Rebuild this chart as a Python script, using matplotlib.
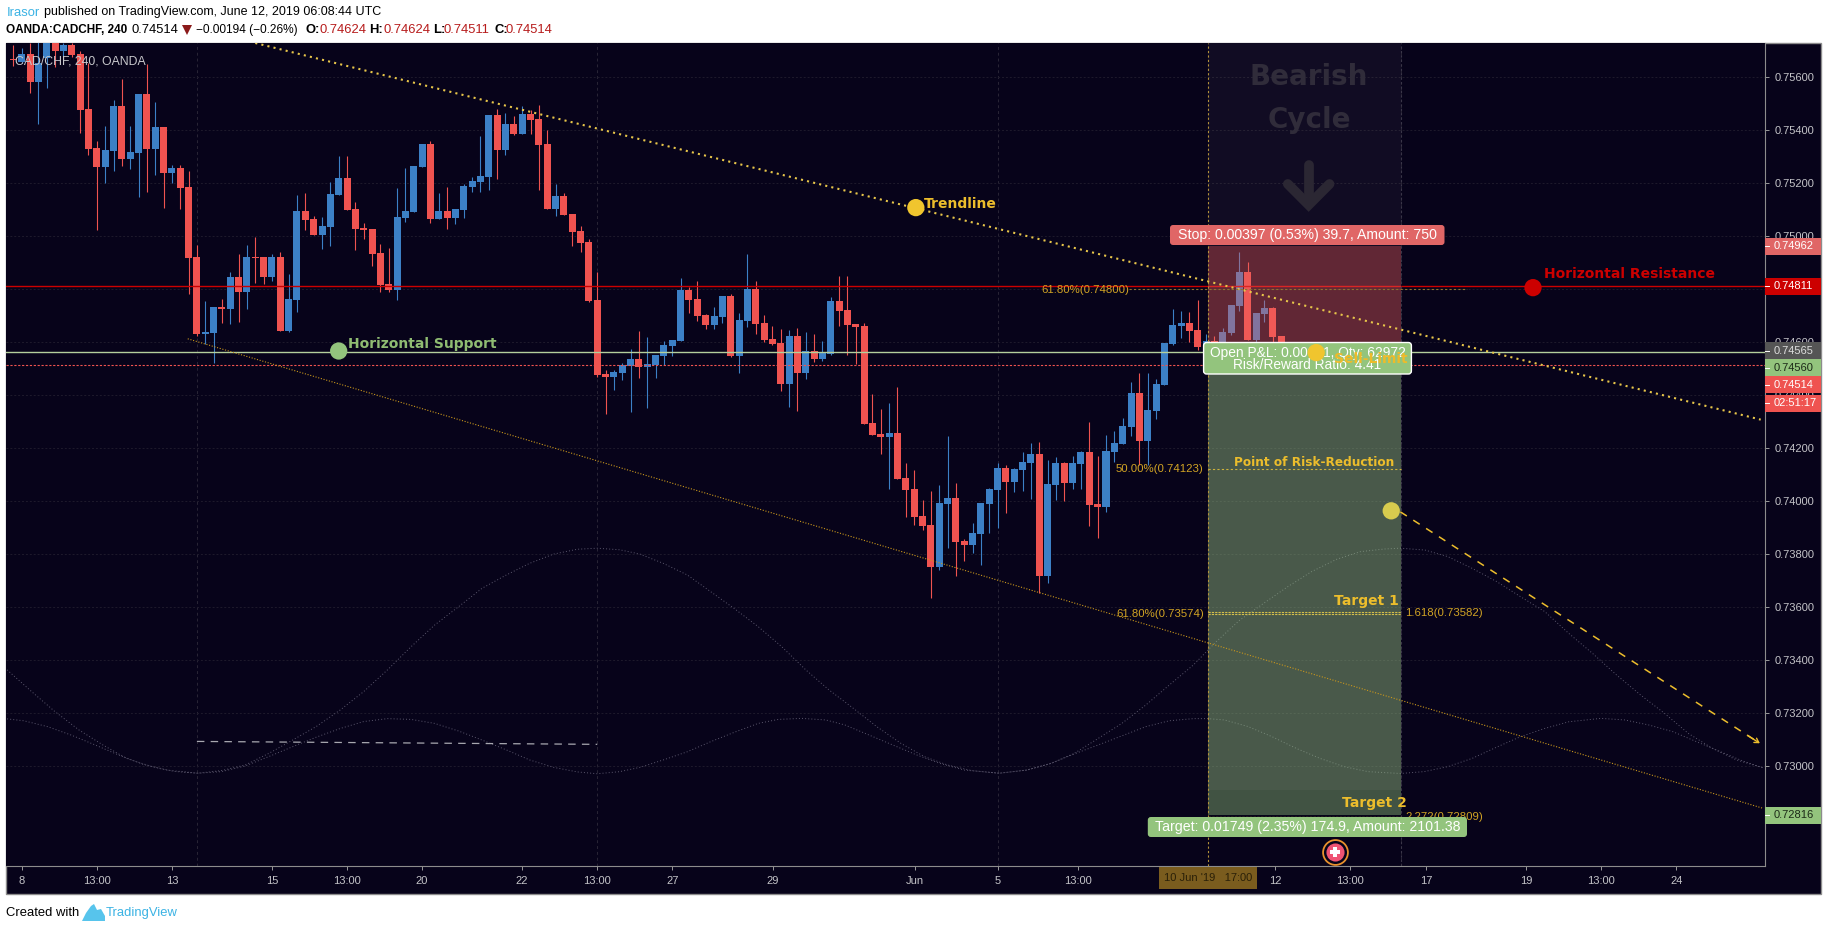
import numpy as np
import matplotlib
matplotlib.use("Agg")
import matplotlib.pyplot as plt
from matplotlib.patches import FancyBboxPatch, Rectangle, Polygon
from matplotlib.transforms import IdentityTransform, blended_transform_factory

W, H = 1828, 930
AX_W = 1759.3
BG = '#07031a'
UP = '#3c80c6'
DOWN = '#ef5350'
YELLOW = '#ecbd2c'
FIB = '#d2a424'
GREEN = '#93c47d'
RED = '#cc0000'
SANS = ['Liberation Sans', 'DejaVu Sans']

# candles, price in 1e-5 units
bar_open = [75668, 75657, 75688, 75580, 75672, 75741, 75699, 75722, 75688, 75481,
            75333, 75262, 75322, 75492, 75292, 75315, 75537, 75330, 75413, 75239,
            75258, 75186, 74922, 74631, 74635, 74733, 74726, 74847, 74790, 74922,
            74922, 74847, 74922, 74643, 74760, 75096, 75066, 75005, 75035, 75156,
            75220, 75103, 75032, 75028, 74937, 74820, 74798, 75069, 75092, 75262,
            75349, 75066, 75096, 75069, 75099, 75186, 75205, 75224, 75458, 75326,
            75424, 75386, 75462, 75443, 75349, 75103, 75152, 75084, 75020, 74979,
            74760, 74481, 74469, 74484, 74511, 74537, 74507, 74515, 74548, 74586,
            74605, 74798, 74764, 74703, 74665, 74696, 74775, 74548, 74681, 74801,
            74673, 74613, 74598, 74443, 74624, 74484, 74567, 74537, 74556, 74756,
            74722, 74669, 74662, 74296, 74254, 74243, 74258, 74088, 74047, 73945,
            73911, 73752, 73990, 74013, 73850, 73835, 73877, 73990, 74043, 74126,
            74073, 74118, 74145, 74179, 73718, 74062, 74145, 74069, 74141, 74186,
            73990, 73979, 74186, 74216, 74281, 74409, 74228, 74341, 74439, 74594,
            74662, 74673, 74647, 74584, 74606, 74597, 74636, 74738, 74866, 74610, 74708, 74730, 74624]
bar_close = [75663, 75688, 75580, 75653, 75747, 75699, 75722, 75684, 75477, 75330,
             75262, 75326, 75492, 75292, 75318, 75537, 75330, 75413, 75239, 75258,
             75182, 74918, 74631, 74639, 74733, 74726, 74847, 74790, 74922, 74918,
             74847, 74922, 74643, 74764, 75096, 75062, 75005, 75039, 75160, 75220,
             75099, 75028, 75024, 74933, 74816, 74798, 75073, 75096, 75266, 75349,
             75066, 75096, 75069, 75103, 75190, 75209, 75228, 75458, 75326, 75424,
             75386, 75462, 75439, 75345, 75103, 75152, 75081, 75016, 74975, 74756,
             74477, 74469, 74488, 74515, 74537, 74507, 74518, 74552, 74590, 74609,
             74798, 74760, 74699, 74665, 74699, 74775, 74548, 74684, 74801, 74669,
             74609, 74594, 74443, 74624, 74484, 74567, 74537, 74564, 74756, 74718,
             74665, 74658, 74292, 74250, 74243, 74258, 74084, 74043, 73941, 73907,
             73752, 73994, 74013, 73847, 73835, 73881, 73994, 74047, 74126, 74073,
             74122, 74148, 74179, 73718, 74065, 74145, 74069, 74145, 74186, 73986,
             73979, 74190, 74220, 74284, 74409, 74228, 74345, 74443, 74598, 74665,
             74673, 74643, 74582, 74606, 74595, 74640, 74742, 74866, 74610, 74712, 74730, 74621, 74514]
bar_high = [75722, 75710, 75730, 75740, 75760, 75760, 75730, 75730, 75699, 75653,
            75360, 75416, 75515, 75594, 75416, 75537, 75650, 75507, 75413, 75269,
            75269, 75247, 74967, 74756, 74733, 74764, 74865, 74933, 74967, 74998,
            74922, 74933, 74941, 74858, 75156, 75164, 75077, 75073, 75205, 75303,
            75303, 75130, 75050, 75028, 74971, 74956, 75182, 75258, 75266, 75349,
            75360, 75164, 75186, 75103, 75198, 75224, 75379, 75458, 75481, 75466,
            75454, 75492, 75477, 75496, 75401, 75198, 75164, 75084, 75039, 74990,
            74865, 74496, 74496, 74522, 74575, 74643, 74620, 74552, 74605, 74609,
            74843, 74809, 74832, 74707, 74733, 74775, 74782, 74711, 74933, 74832,
            74703, 74662, 74650, 74647, 74654, 74639, 74632, 74605, 74771, 74850,
            74850, 74669, 74673, 74405, 74348, 74371, 74431, 74145, 74118, 74005,
            74039, 74062, 74247, 74069, 73858, 73918, 73994, 74050, 74145, 74137,
            74126, 74186, 74220, 74224, 74156, 74167, 74148, 74171, 74190, 74299,
            74171, 74250, 74265, 74314, 74450, 74484, 74484, 74462, 74598, 74726,
            74718, 74715, 74760, 74632, 74625, 74655, 74742, 74942, 74904, 74712, 74761, 74734, 74624]
bar_low = [75644, 75653, 75542, 75424, 75560, 75637, 75678, 75678, 75391, 75305,
           75024, 75201, 75247, 75266, 75254, 75149, 75167, 75232, 75107, 75201,
           75103, 74782, 74624, 74594, 74522, 74673, 74669, 74677, 74726, 74823,
           74820, 74831, 74643, 74639, 74715, 75024, 75005, 74952, 74964, 75156,
           75099, 74948, 74990, 74888, 74790, 74790, 74760, 75054, 75092, 75262,
           75050, 75066, 75028, 75047, 75069, 75167, 75167, 75175, 75216, 75307,
           75383, 75386, 75386, 75175, 75103, 75077, 75081, 74964, 74941, 74752,
           74470, 74330, 74420, 74458, 74337, 74465, 74352, 74465, 74515, 74548,
           74605, 74711, 74681, 74650, 74650, 74673, 74545, 74484, 74658, 74632,
           74601, 74590, 74416, 74356, 74341, 74462, 74526, 74530, 74552, 74662,
           74552, 74518, 74292, 74250, 74179, 74047, 74084, 73941, 73911, 73892,
           73635, 73741, 73824, 73718, 73775, 73805, 73760, 73881, 73899, 73956,
           74035, 74039, 74009, 73654, 73692, 74005, 74001, 74047, 74047, 73907,
           73862, 73960, 74148, 74216, 74247, 74137, 74137, 74311, 74439, 74590,
           74616, 74601, 74571, 74578, 74578, 74584, 74629, 74719, 74610, 74597, 74678, 74597, 74511]

# the two cycle curves
wave_a_x = [-1.76, 1.18, 4.0, 6.87, 9.71, 12.56, 15.4, 18.25, 21.1, 23.94, 26.78, 29.63, 32.47, 35.3, 38.2, 41.0,
            43.85, 46.7, 49.5, 52.4, 55.2, 58.1, 60.9, 63.8, 66.6, 69.0, 71.7, 74.1, 76.9, 79.8, 82.6, 85.4, 88.3,
            91.1, 94.0, 96.8, 99.7, 102.5, 105.4, 108.2, 111.0, 113.9, 117.2, 120.5, 123.4, 126.2, 129.1, 131.9,
            134.8, 137.6, 140.5, 143.2, 146.05, 148.9, 151.8, 154.67, 157.64, 160.5, 163.4, 165.27, 168.24, 171.0,
            173.9, 176.85, 179.7, 182.6, 185.47, 188.34, 191.2, 194.1, 196.96, 199.83, 202.7, 205.6, 208.75]
wave_a_y = [73364, 73282, 73206, 73137, 73081, 73030, 73001, 72981, 72974, 72984, 73005, 73049, 73099, 73150, 73213,
            73282, 73364, 73452, 73533, 73603, 73672, 73722, 73766, 73801, 73819, 73823, 73817, 73801, 73766, 73722,
            73659, 73596, 73527, 73452, 73364, 73288, 73219, 73150, 73087, 73037, 73005, 72984, 72974, 72986, 73011,
            73049, 73106, 73162, 73232, 73307, 73383, 73470, 73552, 73615, 73678, 73735, 73781, 73810, 73820, 73823,
            73816, 73791, 73747, 73697, 73640, 73584, 73502, 73426, 73345, 73269, 73200, 73124, 73068, 73024, 72995]
wave_b_x = [-1.76, 0.23, 3.07, 5.92, 8.77, 11.6, 14.5, 17.3, 21.1, 23.94, 26.78, 29.63, 32.47, 35.3, 38.2, 41.0, 43.85,
            46.7, 49.5, 52.4, 55.2, 58.1, 60.9, 63.8, 66.6, 69.0, 71.7, 74.1, 76.9, 79.8, 82.6, 85.4, 88.3, 90.7, 93.5,
            96.4, 98.7, 101.6, 104.4, 107.3, 110.1, 113.0, 117.2, 120.5, 123.4, 126.2, 129.1, 131.9, 134.8, 137.6,
            140.5, 142.2, 144.2, 147.04, 149.9, 152.8, 155.66, 158.53, 161.4, 165.27, 168.14, 171.0, 173.9, 176.95,
            179.7, 182.6, 185.47, 189.33, 192.2, 195.08, 197.95, 200.8, 203.7, 206.6, 208.75]
wave_b_y = [73179, 73172, 73150, 73118, 73081, 73043, 73008, 72986, 72974, 72980, 73001, 73037, 73074, 73110, 73143,
            73169, 73180, 73177, 73162, 73133, 73099, 73062, 73024, 72996, 72979, 72972, 72980, 72996, 73024, 73055,
            73093, 73128, 73162, 73177, 73181, 73175, 73156, 73118, 73081, 73043, 73011, 72986, 72974, 72986, 73011,
            73047, 73081, 73115, 73150, 73172, 73180, 73180, 73175, 73150, 73112, 73068, 73030, 72999, 72980, 72973,
            72980, 72999, 73030, 73074, 73112, 73143, 73168, 73181, 73175, 73156, 73131, 73093, 73055, 73017, 72995]

# drawn levels and lines
resistance = 0.74811
support = 0.74565
last_price = 0.74514
upper_trend_x = [28, 208.5]
upper_trend_y = [0.75729, 0.74308]
lower_trend_x = [19.9, 208.75]
lower_trend_y = [0.74613, 0.72842]
white_dash_x = [21, 69]
white_dash_y = [0.73094, 0.73083]
risk_arrow_x = [165.3, 208.4]
risk_arrow_y = [0.73960, 0.73087]

# short position tool
box_left, box_right = 142.25, 165.4
stop_level = 0.74962
entry_level = 0.74560
target_level = 0.72816
cycle_bottom = 0.7291
target_1 = [0.73582, 0.73574]
risk_reduction = 0.74123
fib_748 = 0.74800
fib_748_x = [132.7, 173.3]

# circles on the chart
dot_x = [107.2, 38.0, 181.2, 155.2, 164.2]
dot_y = [0.75108, 0.74567, 0.74806, 0.74561, 0.73964]
dot_c = ['#f0c52e', '#93c47d', '#cc0000', '#f0c52e', '#d8cb4e']

# axes
price_ticks = np.arange(0.730, 0.7561, 0.002)
time_ticks = [0, 9, 18, 30, 39, 48, 60, 69, 78, 90.07, 107.1, 117, 126.6, 138.36, 150.3, 159.3, 168.4, 180.4, 189.3,
              198.4]
time_labels = ['8', '13:00', '13', '15', '13:00', '20', '22', '13:00', '27', '29', 'Jun', '5', '13:00', '10', '12',
               '13:00', '17', '19', '13:00', '24']
grid_bars = [21, 69, 117, 165.4]
tag_text = ['0.74962', '0.74811', '0.74565', '0.74560', '0.74514', '02:51:17', '0.72816']
tag_price = [0.74963, 0.74812, 0.74567, 0.74503, 0.74439, 0.74369, 0.72815]
tag_bg = ['#e06666', RED, '#555555', GREEN, DOWN, DOWN, GREEN]
tag_fg = ['white', 'white', '#dddddd', '#1c2a18', 'white', 'white', '#1c2a18']

fig = plt.figure(figsize=(W / 100, H / 100), dpi=100, facecolor='white')
fig.add_artist(Rectangle((5.5 / W, (H - 893.5) / H), 1815.5 / W, 850.5 / H, transform=fig.transFigure,
                         fc=BG, ec='#8c8c8c', lw=1.0, zorder=-5))
ax = fig.add_axes([6 / W, (H - 866) / H, AX_W / W, 823 / H], facecolor=BG)
ax.set_xlim(-1.89, 209.05)
ax.set_ylim(0.72624, 0.75729)


def put(x, y, s, **kw):
    kw.setdefault('va', 'center')
    kw.setdefault('zorder', 12)
    kw.setdefault('family', SANS)
    return ax.text(x, H - y, s, transform=IdentityTransform(), clip_on=False, **kw)


def label_box(x0, y0, x1, y1, fc, ec='none', lw=0, zorder=10):
    ax.add_patch(FancyBboxPatch((x0, H - y1), x1 - x0, y1 - y0, boxstyle='round,pad=0,rounding_size=3',
                                transform=IdentityTransform(), fc=fc, ec=ec, lw=lw, clip_on=False, zorder=zorder))


# grid and axes
for s in ['top', 'left']:
    ax.spines[s].set_visible(False)
for s in ['right', 'bottom']:
    ax.spines[s].set_color('#8c8c8c')
    ax.spines[s].set_linewidth(0.8)
ax.yaxis.tick_right()
ax.set_yticks(price_ticks)
ax.set_yticklabels(['%.5f' % p for p in price_ticks], family=SANS, fontsize=8, color='#c4c4c8')
ax.set_xticks(time_ticks)
ax.set_xticklabels(time_labels, family=SANS, fontsize=8, color='#c4c4c8')
ax.tick_params(axis='both', length=3, width=0.7, color='#9a9a9a', pad=3.4)
ax.tick_params(axis='x', pad=4)
ax.grid(axis='y', color='#1e1a2c', lw=0.7, ls=(0, (2, 2)))
ax.vlines(grid_bars, 0.72624, 0.75729, color='#2a2636', lw=0.7, ls=(0, (3, 3)), zorder=1)

# cycle curves
ax.plot(wave_a_x, np.array(wave_a_y) / 1e5, color='#5c586e', lw=0.7, ls=(0, (1, 2.2)), zorder=2)
ax.plot(wave_b_x, np.array(wave_b_y) / 1e5, color='#5c586e', lw=0.7, ls=(0, (1, 2.2)), zorder=2)
ax.plot(white_dash_x, white_dash_y, color='#a8a8b0', lw=0.9, ls=(0, (6, 5)), zorder=2)

# candles
o = np.array(bar_open) / 1e5
c = np.array(bar_close) / 1e5
hi = np.array(bar_high) / 1e5
lo = np.array(bar_low) / 1e5
x = np.arange(len(o)) - 1
col = [UP if b > a else DOWN for a, b in zip(o, c)]
ax.vlines(x, lo, hi, colors=col, lw=0.8, zorder=3)
ax.bar(x, np.abs(c - o), bottom=np.minimum(o, c), width=0.84, color=col, lw=0, zorder=3.1)

# position tool, over the candles
ax.add_patch(Rectangle((box_left, entry_level), box_right - box_left, stop_level - entry_level,
                       fc=DOWN, alpha=0.36, lw=0, zorder=5))
ax.add_patch(Rectangle((box_left, target_level), box_right - box_left, entry_level - target_level,
                       fc=GREEN, alpha=0.42, lw=0, zorder=5))
ax.add_patch(Rectangle((box_left, cycle_bottom), box_right - box_left, 0.75729 - cycle_bottom,
                       fc='#ffe8f0', alpha=0.045, lw=0, zorder=5.1))
ax.axvline(box_left, color='#b3923a', lw=0.8, ls=(0, (2, 2)), zorder=5.2)
ax.axvline(box_right, color='#3a3648', lw=0.8, ls=(0, (2, 2)), zorder=5.2)

# arrow in the bearish cycle block
ax.plot([154.3, 154.3], [0.75269, 0.75125], color='#2b2733', lw=7, solid_capstyle='round', zorder=5.3)
ax.plot([151.8, 154.3, 156.8], [0.75197, 0.75118, 0.75197], color='#2b2733', lw=7, solid_capstyle='round',
        solid_joinstyle='miter', zorder=5.3)
put(1309, 77, 'Bearish', family='DejaVu Sans', weight='bold', fontsize=20, color='#302c3a', ha='center', zorder=5.3)
put(1309, 120, 'Cycle', family='DejaVu Sans', weight='bold', fontsize=20, color='#302c3a', ha='center', zorder=5.3)

# levels
ax.axhline(resistance, color=RED, lw=1.0, zorder=4)
ax.axhline(support, color='#b4cf9c', lw=1.0, zorder=4)
ax.axhline(last_price, color=DOWN, lw=0.8, ls=(0, (2, 1.5)), zorder=4)
ax.plot(upper_trend_x, upper_trend_y, color='#e8c64a', lw=1.5, ls=(0, (1, 2)), zorder=6)
ax.plot(lower_trend_x, lower_trend_y, color='#c9971c', lw=0.8, ls=(0, (1, 1.5)), zorder=6)
ax.plot(risk_arrow_x, risk_arrow_y, color=YELLOW, lw=1.1, ls=(0, (5, 5)), zorder=6)
ax.annotate('', xy=(risk_arrow_x[1], risk_arrow_y[1]), xytext=(risk_arrow_x[1] - 1.5, risk_arrow_y[1] + 0.0003),
            arrowprops=dict(arrowstyle='->,head_length=0.3,head_width=0.18', color=YELLOW, lw=1.0, shrinkA=0,
                            shrinkB=0), zorder=6)

# fib levels
ax.plot(fib_748_x, [fib_748, fib_748], color='#8c7530', lw=0.8, ls=(0, (2, 2)), zorder=6)
ax.plot([box_left, box_right], [risk_reduction, risk_reduction], color='#cdb23c', lw=0.8, ls=(0, (2, 2)), zorder=6)
for lvl in target_1:
    ax.plot([box_left, box_right], [lvl, lvl], color='#d6c04a', lw=0.8, ls=(0, (2, 1)), zorder=6)
ax.plot([box_left, box_right], [0.72809, 0.72809], color='#d0a830', lw=0.9, ls=(0, (2, 1)), zorder=6)

put(1041, 290, '61.80%(0.74800)', fontsize=8.2, color=FIB, zorder=7)
put(1116, 469, '50.00%(0.74123)', fontsize=8.2, color=FIB, zorder=7)
put(1116, 614, '61.80%(0.73574)', fontsize=8.2, color=FIB, zorder=7)
put(1405.5, 613, '1.618(0.73582)', fontsize=8.2, color=FIB, zorder=7)
put(1405.5, 817, '2.272(0.72809)', fontsize=8.2, color=FIB, zorder=7)

# position labels
label_box(1170, 225, 1444.5, 245, '#e06666')
put(1307, 235, 'Stop: 0.00397 (0.53%) 39.7, Amount: 750', fontsize=10.2, color='white', ha='center')
label_box(1203.6, 342.5, 1411.4, 374, GREEN, ec='white', lw=1.0)
put(1307.5, 353, 'Open P&L: 0.00051, Qty: 62972', fontsize=9.9, color='white', ha='center')
put(1307.5, 365, 'Risk/Reward Ratio: 4.41', fontsize=9.9, color='white', ha='center')
label_box(1147.8, 817, 1467, 837, GREEN, zorder=10)
put(1307.5, 827, 'Target: 0.01749 (2.35%) 174.9, Amount: 2101.38', fontsize=10.2, color='white', ha='center')

# dots
ax.scatter(dot_x, dot_y, s=155, c=dot_c, lw=0, zorder=13)
BOLD = dict(family='DejaVu Sans', weight='bold', fontsize=10)
put(924, 204, 'Trendline', color='#ecbd2c', **BOLD)
put(348, 344, 'Horizontal Support', color='#8fbc72', **BOLD)
put(1543.6, 274, 'Horizontal Resistance', color=RED, **BOLD)
put(1333.7, 359, 'Sell-Limit', color='#edbb2a', **BOLD, zorder=14)
put(1233.7, 462, 'Point of Risk-Reduction', color=YELLOW, family='DejaVu Sans', weight='bold', fontsize=8.7)
put(1334, 601, 'Target 1', color=YELLOW, **BOLD)
put(1342, 803, 'Target 2', color=YELLOW, **BOLD)
put(15, 61, 'CAD/CHF, 240, OANDA', fontsize=8.8, color='#c8c8cc')

# flag icon
ax.scatter([157.5], [0.72677], s=320, c=BG, edgecolors='#e8912d', lw=1.3, zorder=8)
ax.scatter([157.5], [0.72677], s=170, c='#ef5373', lw=0, zorder=8.1)
ax.scatter([157.5], [0.72677], s=60, c='white', marker='P', lw=0, zorder=8.2)

# price tags on the scale
trans = blended_transform_factory(ax.transAxes, ax.transData)
tag_w = 55.7 / AX_W
tag_h = 17 / 26500
for txt, p, bg, fg in zip(tag_text, tag_price, tag_bg, tag_fg):
    ax.add_patch(Rectangle((1.0, p - tag_h / 2), tag_w, tag_h, transform=trans, fc=bg, lw=0, clip_on=False, zorder=9))
    ax.plot([1.0, 1 + 4 / AX_W], [p, p], transform=trans, color='white', lw=0.7, clip_on=False, zorder=9.1)
    ax.text(1 + 8.7 / AX_W, p, txt, transform=trans, family=SANS, fontsize=8, color=fg, va='center', clip_on=False,
            zorder=9.2)

# crosshair date on the time scale
ax.add_patch(Rectangle((1159, H - 888.7), 97.5, 22, transform=IdentityTransform(), fc='#7a5c1e', lw=0, clip_on=False,
                       zorder=9))
put(1208, 878, "10 Jun '19   17:00", fontsize=8, color='#2a2008', ha='center', zorder=9.2)

# header and footer


def head(x, y, s, **kw):
    kw.setdefault('family', SANS)
    kw.setdefault('fontsize', 9)
    kw.setdefault('color', 'black')
    fig.text(x / W, 1 - y / H, s, va='center', **kw)


head(6.5, 12.5, 'Irasor', color='#3bb3e4', fontsize=9.4)
head(44, 12.5, 'published on TradingView.com, June 12, 2019 06:08:44 UTC')
head(6.5, 30, 'OANDA:CADCHF, 240', weight='bold', fontsize=8.5)
head(132, 30, '0.74514', fontsize=9.4)
fig.add_artist(Polygon([[182 / W, 1 - 25 / H], [192 / W, 1 - 25 / H], [187 / W, 1 - 35 / H]],
                       transform=fig.transFigure, fc='#8b1a1a', lw=0))
head(196, 30, '\u22120.00194 (\u22120.26%)', fontsize=8.6)
for lx, lab, vx, val in zip([306, 369, 433, 494], ['O:', 'H:', 'L:', 'C:'], [319, 383.5, 444, 506],
                            ['0.74624', '0.74624', '0.74511', '0.74514']):
    head(lx, 30, lab, weight='bold', fontsize=9.4)
    head(vx, 30, val, color='#b71c1c', fontsize=9.4)
head(6, 913, 'Created with', fontsize=9.4)
fig.add_artist(Polygon([[82 / W, 1 - 921 / H], [86 / W, 1 - 913 / H], [91 / W, 1 - 906 / H], [94 / W, 1 - 904 / H],
                        [97 / W, 1 - 910 / H], [101 / W, 1 - 909 / H], [105 / W, 1 - 916 / H], [105 / W, 1 - 921 / H]],
                       transform=fig.transFigure, fc='#57c4ec', lw=0))
head(106, 913, 'TradingView', color='#3bb3e4', fontsize=9.4)

fig.savefig('out.png', dpi=100, facecolor='white')
